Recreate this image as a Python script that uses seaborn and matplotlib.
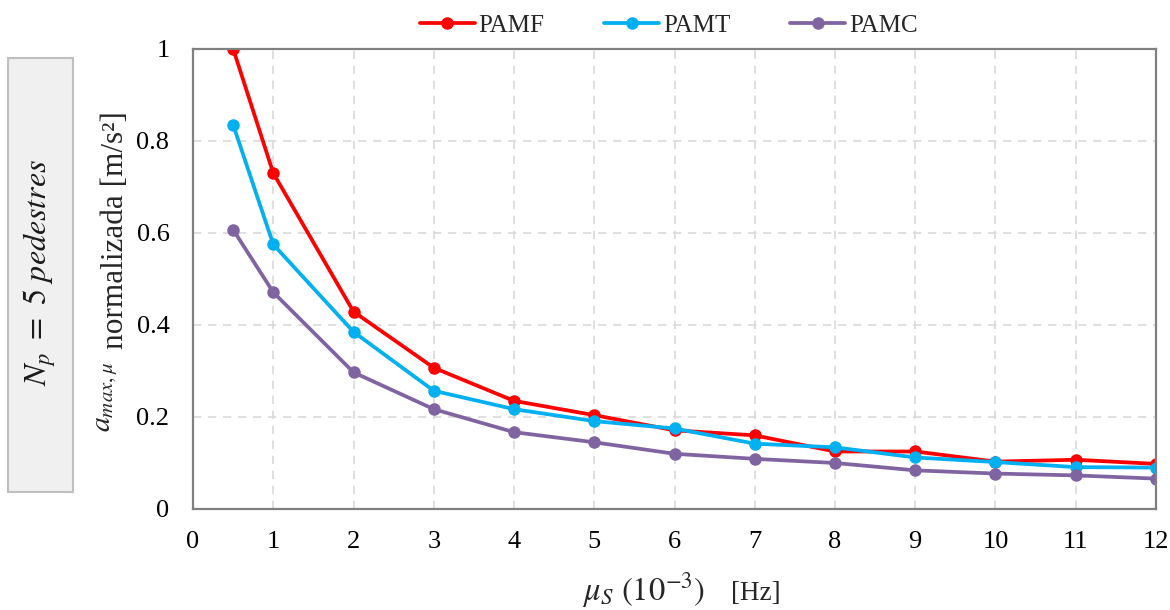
import matplotlib
matplotlib.use("Agg")
import matplotlib.pyplot as plt
import seaborn as sns
import pandas as pd
from matplotlib.patches import Rectangle

# Data
mu_s = [0.5, 1, 2, 3, 4, 5, 6, 7, 8, 9, 10, 11, 12]
pamf = [1.000, 0.730, 0.429, 0.307, 0.235, 0.204, 0.171, 0.160, 0.125, 0.125, 0.103, 0.107, 0.098]
pamt = [0.835, 0.575, 0.385, 0.257, 0.217, 0.191, 0.175, 0.142, 0.134, 0.112, 0.102, 0.091, 0.090]
pamc = [0.607, 0.471, 0.297, 0.217, 0.167, 0.145, 0.120, 0.109, 0.100, 0.084, 0.077, 0.073, 0.066]
series_names = ["PAMF", "PAMT", "PAMC"]
series_colors = ["#FF0000", "#00B0F0", "#8064A2"]
x_ticks = list(range(0, 13))
y_ticks = [0, 0.2, 0.4, 0.6, 0.8, 1]
y_tick_labels = ["0", "0.2", "0.4", "0.6", "0.8", "1"]

sns.set_theme(style="white")
plt.rcParams['font.family'] = ['Liberation Serif', 'DejaVu Serif']
plt.rcParams['mathtext.fontset'] = 'stix'

df = pd.DataFrame({"mu": mu_s * 3,
                   "val": pamf + pamt + pamc,
                   "serie": sum([[n] * len(mu_s) for n in series_names], [])})

fig = plt.figure(figsize=(11.7, 6.1), dpi=100)
ax = fig.add_axes([0.165, 0.1656, 0.823, 0.7541])

for name, col in zip(series_names, series_colors):
    sub = df[df["serie"] == name]
    sns.lineplot(data=sub, x="mu", y="val", ax=ax, color=col, marker="o",
                 markersize=9, markeredgewidth=0, linewidth=2.7, label=name)

ax.set_xlim(0, 12)
ax.set_ylim(0, 1)
ax.set_xticks(x_ticks)
ax.set_xticklabels([str(t) for t in x_ticks])
ax.set_yticks(y_ticks)
ax.set_yticklabels(y_tick_labels)
ax.grid(True, color="#d9d9d9", linestyle=(0, (5, 4)), linewidth=1.2)
for s in ax.spines.values():
    s.set_visible(True)
    s.set_color("#808080")
    s.set_linewidth(1.6)
ax.tick_params(axis="both", direction="in", length=5, width=1.2, color="#808080",
               labelsize=19, labelcolor="black")
ax.tick_params(axis="y", pad=17)
ax.tick_params(axis="x", pad=16)
ax.set_xlabel("")
ax.set_ylabel("")

# axis titles (math part larger, as in the reference)
fig.text(582 / 1170, 1 - 600 / 610, r"$\mu_S\ (10^{-3})$", fontsize=23.5,
         ha="left", va="baseline")
fig.text(731 / 1170, 1 - 600 / 610, "[Hz]", fontsize=19.5, ha="left", va="baseline")
fig.text(110 / 1170, 1 - 432 / 610, r"$a_{max,\mu}$", fontsize=21.5, rotation=90,
         rotation_mode="anchor", ha="left", va="baseline")
fig.text(123 / 1170, 1 - 349 / 610, "normalizada [m/s²]", fontsize=22.5, rotation=90,
         rotation_mode="anchor", ha="left", va="baseline")

leg = ax.legend(loc="lower center", bbox_to_anchor=(0.494, 1.005), ncol=3, frameon=False,
                fontsize=18, handlelength=2.2, handletextpad=0.15, columnspacing=2.4,
                borderaxespad=0.0)

fig.patches.append(Rectangle((0.0068, 1 - 492 / 610), 0.0556, (492 - 58) / 610,
                             transform=fig.transFigure,
                             facecolor="#f0f0f0", edgecolor="#bfbfbf", linewidth=1.5))
fig.text(0.034, 1 - 272 / 610, r"$N_p\ =\ 5\ pedestres$", rotation=90, fontsize=23,
         ha="center", va="center", color="#1a1a1a")

fig.savefig("out.png", dpi=100)
